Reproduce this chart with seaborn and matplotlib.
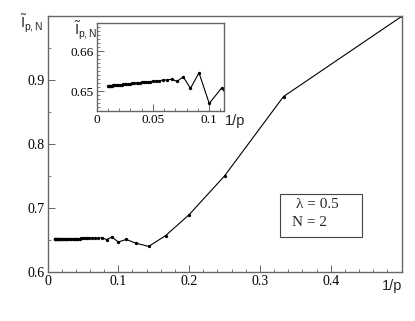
import numpy as np
import pandas as pd
import matplotlib
matplotlib.use("Agg")
import matplotlib.pyplot as plt
from matplotlib.patches import Rectangle
from matplotlib.ticker import MultipleLocator
import seaborn as sns

# p values and the corresponding I~_{p,N} (lambda = 0.5, N = 2)
p_vals = [100, 95, 90, 85, 80, 75, 70, 65, 60, 56, 52, 48, 45, 42, 40, 38, 36,
          34, 32, 30, 28, 27, 26, 25, 24, 23, 22, 21, 20, 19, 18, 17, 16, 15,
          14, 13, 12, 11, 10, 9, 8, 7, 6, 5, 4, 3, 2]
i_vals = [0.65130, 0.65132, 0.65133, 0.65135, 0.65137, 0.65140, 0.65142,
          0.65146, 0.65149, 0.65153, 0.65157, 0.65161, 0.65165, 0.65170,
          0.65174, 0.65177, 0.65182, 0.65186, 0.65192, 0.65198, 0.65205,
          0.65209, 0.65213, 0.65217, 0.65222, 0.65227, 0.65233, 0.65239,
          0.65246, 0.65254, 0.65262, 0.65272, 0.65283, 0.65295,
          0.65243, 0.65358, 0.65068, 0.65458, 0.64692, 0.65083,
          0.6450, 0.6400, 0.6567, 0.6895, 0.7500, 0.8740, 0.9990]

df = pd.DataFrame({"inv_p": 1.0 / np.array(p_vals, dtype=float), "I": i_vals})

sns.set_style("ticks")
plt.rcParams["font.family"] = ["Liberation Serif", "DejaVu Serif"]
plt.rcParams["mathtext.fontset"] = "custom"
plt.rcParams["mathtext.rm"] = "Liberation Sans"
plt.rcParams["mathtext.it"] = "Liberation Sans"

fig = plt.figure(figsize=(4.15, 3.21), dpi=100)
ax = fig.add_axes([0.1145, 0.1526, 0.853, 0.798])
ins = fig.add_axes([0.233, 0.655, 0.3075, 0.272])

spine_col = "#666666"
for a, fs in ((ax, 10), (ins, 9.5)):
    sns.lineplot(data=df, x="inv_p", y="I", ax=a, color="black", lw=0.8,
                 marker="o", markersize=2.4, markeredgewidth=0, sort=False)
    a.set_xlabel("")
    a.set_ylabel("")
    for s in a.spines.values():
        s.set_color(spine_col)
        s.set_linewidth(1.0)
    a.tick_params(which="both", direction="in", colors="black", labelsize=fs,
                  top=False, right=False)
    a.tick_params(which="major", length=5, width=0.7, color=spine_col)
    a.tick_params(which="minor", length=2.5, width=0.6, color=spine_col)

# main axes
ax.set_xlim(0, 0.5)
ax.set_ylim(0.6, 1.0)
ax.xaxis.set_minor_locator(MultipleLocator(0.02))
ax.yaxis.set_minor_locator(MultipleLocator(0.05))
ax.set_xticks([0, 0.1, 0.2, 0.3, 0.4])
ax.set_xticklabels(["0", "0.1", "0.2", "0.3", "0.4"])
ax.set_yticks([0.6, 0.7, 0.8, 0.9])
ax.set_yticklabels(["0.6", "0.7", "0.8", "0.9"])
ax.tick_params(axis="both", pad=2)

# inset
ins.set_xlim(0, 0.1134)
ins.set_ylim(0.6451, 0.6669)
ins.set_xticks([0, 0.05, 0.1])
ins.set_xticklabels(["0", "0.05", "0.1"])
ins.xaxis.set_minor_locator(MultipleLocator(0.01))
ins.set_yticks([0.65, 0.66])
ins.set_yticklabels(["0.65", "0.66"])
ins.yaxis.set_minor_locator(MultipleLocator(0.001))
ins.tick_params(axis="both", pad=2)

ylab = r"$\tilde{\mathrm{I}}_{\mathrm{p,N}}$"
fig.text(0.077, 0.925, ylab, ha="center", va="center", fontsize=10.5)
fig.text(0.205, 0.905, ylab, ha="center", va="center", fontsize=10.5)
fig.text(0.944, 0.109, "1/p", ha="center", va="center", fontsize=10.5,
         family="Liberation Sans")
fig.text(0.5675, 0.623, "1/p", ha="center", va="center", fontsize=10.5,
         family="Liberation Sans")

# parameter box
fig.patches.append(Rectangle((0.6747, 0.2617), 0.1976, 0.134, transform=fig.transFigure,
                             fill=False, edgecolor="#444444", lw=0.8))
fig.text(0.713, 0.3614, "λ = 0.5", ha="left", va="center", fontsize=11)
fig.text(0.703, 0.3053, "N = 2", ha="left", va="center", fontsize=11)

fig.savefig("out.png", dpi=100)
